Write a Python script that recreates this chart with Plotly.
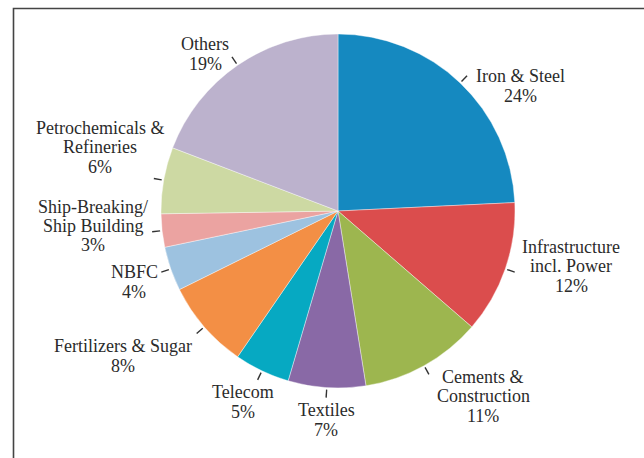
import math
import plotly.graph_objects as go

# Sector shares (%)
sectors = ["Iron & Steel", "Infrastructure incl. Power", "Cements & Construction",
           "Textiles", "Telecom", "Fertilizers & Sugar", "NBFC",
           "Ship-Breaking/ Ship Building", "Petrochemicals & Refineries", "Others"]
shares = [24, 12, 11, 7, 5, 8, 4, 3, 6, 19]
label_lines = [["Iron & Steel"], ["Infrastructure", "incl. Power"], ["Cements &", "Construction"],
               ["Textiles"], ["Telecom"], ["Fertilizers & Sugar"], ["NBFC"],
               ["Ship-Breaking/", "Ship Building"], ["Petrochemicals &", "Refineries"], ["Others"]]

colors = ["#1589C0", "#DB4D4D", "#9DB64F", "#8969A6", "#06A9C2",
          "#F38F45", "#9DC2E0", "#EBA3A1", "#CDD9A3", "#BCB2CD"]

W, H = 644, 458
CX, CY, R = 338, 211, 177
LINE_GAP = 19.5

# label block centres in pixels
label_pos = [(520, 86), (571, 266), (483, 396), (326, 420), (243, 402),
             (123, 356), (134, 282), (93, 226), (100, 147), (205, 54)]

fig = go.Figure(go.Pie(
    labels=sectors, values=shares, sort=False, direction="clockwise", rotation=0,
    marker=dict(colors=colors, line=dict(color="white", width=0.4)),
    textinfo="none", hoverinfo="label+value", showlegend=False,
    domain=dict(x=[(CX - R) / W, (CX + R) / W], y=[(H - CY - R) / H, (H - CY + R) / H]),
))

total = sum(shares)
shapes = []
annotations = []
cum = 0
for name, v, lines, (lx, ly) in zip(sectors, shares, label_lines, label_pos):
    mid = (cum + v / 2) / total * 2 * math.pi
    cum += v
    dx, dy = math.sin(mid), -math.cos(mid)
    x0, y0 = CX + (R + 2) * dx, CY + (R + 2) * dy
    x1, y1 = CX + (R + 10) * dx, CY + (R + 10) * dy
    shapes.append(dict(type="line", xref="paper", yref="paper",
                       x0=x0 / W, y0=1 - y0 / H, x1=x1 / W, y1=1 - y1 / H,
                       line=dict(color="#333333", width=1.4)))
    rows = lines + [f"{v}%"]
    top = ly - LINE_GAP * (len(rows) - 1) / 2
    for i, row in enumerate(rows):
        annotations.append(dict(x=lx / W, y=1 - (top + i * LINE_GAP) / H,
                                xref="paper", yref="paper",
                                text=row, showarrow=False, align="center",
                                xanchor="center", yanchor="middle",
                                font=dict(family="Liberation Serif", size=18, color="#2b2b2b")))

# frame around the figure
shapes.append(dict(type="rect", xref="paper", yref="paper",
                   x0=13.5 / W, y0=-0.02, x1=1.02, y1=1 - 8.5 / H,
                   line=dict(color="#444444", width=1.6)))

fig.update_layout(width=W, height=H, margin=dict(l=0, r=0, t=0, b=0),
                  paper_bgcolor="white", plot_bgcolor="white",
                  shapes=shapes, annotations=annotations)
fig.write_html("out.html")
